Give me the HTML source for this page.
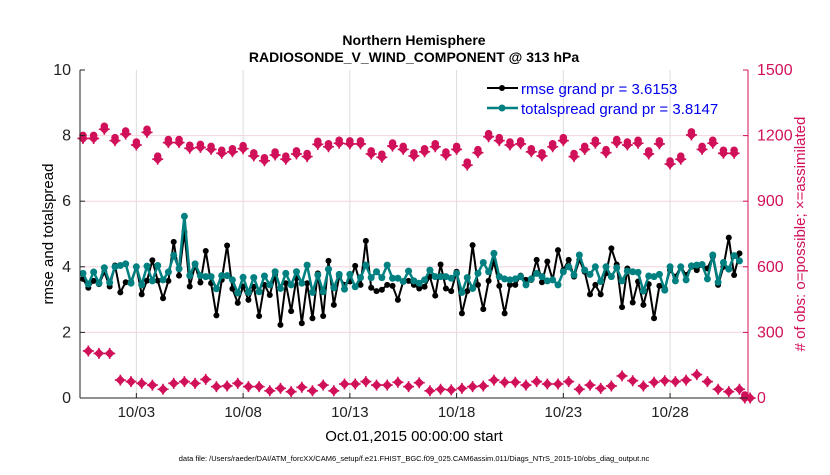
<!DOCTYPE html>
<html><head><meta charset="utf-8"><style>
body{margin:0;background:#fff;}
svg text{font-family:"Liberation Sans",sans-serif;}
</style></head><body>
<svg id="chart" width="830" height="470" viewBox="0 0 830 470" xmlns="http://www.w3.org/2000/svg">
<rect width="830" height="470" fill="#fff"/>
<g id="grid"></g>
<g id="marks"></g>
<g id="axes"></g>
<text x="414" y="45" font-size="14" font-weight="bold" text-anchor="middle">Northern Hemisphere</text>
<text x="414" y="62" font-size="14" font-weight="bold" text-anchor="middle">RADIOSONDE_V_WIND_COMPONENT @ 313 hPa</text>
<text transform="translate(53,234) rotate(-90)" font-size="15" text-anchor="middle">rmse and totalspread</text>
<text transform="translate(805,234) rotate(-90)" font-size="15" text-anchor="middle" fill="#d1105a"># of obs: o=possible; ×=assimilated</text>
<text x="414" y="441" font-size="15" text-anchor="middle">Oct.01,2015 00:00:00 start</text>
<text x="414" y="461" font-size="7.5" text-anchor="middle">data file: /Users/raeder/DAI/ATM_forcXX/CAM6_setup/f.e21.FHIST_BGC.f09_025.CAM6assim.011/Diags_NTrS_2015-10/obs_diag_output.nc</text>
<g>
<line x1="487" y1="88" x2="518" y2="88" stroke="#000" stroke-width="2"/><circle cx="502" cy="88" r="3" fill="#000"/>
<text x="521" y="94" font-size="15" fill="#0000ee">rmse grand pr = 3.6153</text>
<line x1="487" y1="108" x2="518" y2="108" stroke="#008080" stroke-width="2.5"/><circle cx="502" cy="108" r="3.5" fill="#008080"/>
<text x="521" y="114" font-size="15" fill="#0000ee">totalspread grand pr = 3.8147</text>
</g>
</svg>
<script>
const rmse=[3.63,3.36,3.57,3.47,3.84,3.4,4.04,3.22,3.53,3.55,4.0,3.16,3.58,4.2,3.58,3.04,3.57,4.76,3.73,5.06,3.4,4.04,3.52,4.48,3.5,2.52,3.6,4.65,3.33,2.9,3.4,
2.99,3.39,2.5,3.45,3.14,3.75,2.23,3.5,2.65,3.65,2.28,3.5,2.43,3.8,2.5,4.18,2.84,3.7,3.45,3.55,4.03,3.45,4.79,3.36,3.26,3.3,3.45,3.42,2.99,3.55,3.57,
3.45,3.34,3.39,3.7,3.12,4.07,3.34,3.26,3.85,2.58,3.26,4.66,3.45,2.71,3.57,4.16,3.42,2.58,3.45,3.45,3.73,3.6,3.6,4.21,3.53,4.16,3.6,4.51,3.9,4.21,3.7,
4.21,3.85,3.16,3.45,3.16,3.8,4.56,4.07,2.77,3.95,2.91,3.55,2.84,3.47,2.43,3.42,3.34,3.9,3.7,4.0,3.75,4.0,3.9,4.07,3.95,4.31,3.45,4.0,4.89,3.75,4.41];
const spread=[3.8,3.47,3.84,3.5,3.97,3.52,4.0,4.04,4.09,3.5,4.0,3.45,4.02,3.57,4.04,3.6,3.84,4.35,3.94,5.54,3.73,4.09,3.73,3.7,3.7,3.33,3.73,3.73,3.6,3.2,3.68,
3.22,3.67,3.24,3.72,3.45,3.85,3.34,3.8,3.45,3.85,3.5,4.05,3.22,3.75,3.24,3.93,3.36,3.77,3.32,3.77,3.39,3.67,4.05,3.67,3.85,3.67,4.05,3.65,3.65,3.55,3.87,
3.57,3.5,3.6,3.9,3.7,3.7,3.7,3.65,3.8,3.22,3.67,3.34,3.8,4.13,3.85,4.41,3.7,3.63,3.6,3.63,3.7,3.45,3.63,3.8,3.7,3.57,3.6,3.45,3.85,4.0,3.75,
4.36,3.9,3.77,4.0,3.55,4.0,3.7,3.97,3.57,3.87,3.85,3.83,3.26,3.72,3.7,3.77,3.29,4.0,3.57,4.0,3.6,4.03,4.05,4.07,3.63,4.36,3.53,4.13,3.93,4.34,4.18];
const obsPossible=[1187,1187,1229,1177,1207,1157,1215,1092,1168,1168,1142,1146,1137,1119,1126,1140,1107,1085,1111,1092,1116,1104,1160,1149,1165,1162,1162,1116,1101,1152,1137,
1107,1126,1149,1111,1137,1065,1122,1195,1177,1157,1162,1126,1107,1149,1177,1104,1137,1165,1122,1168,1157,1165,1116,1162,1070,1092,1203,1137,1165,1119,1119,0];
const obsLower=[215,204,204,82,75,67,59,40,67,75,67,85,52,55,67,52,52,33,44,29,49,33,59,33,64,64,75,59,59,72,52,
70,33,40,37,44,52,55,82,72,72,59,75,64,64,75,40,59,44,55,101,79,55,72,79,75,82,107,75,40,29,40,0];
const xTickLabels=["10/03","10/08","10/13","10/18","10/23","10/28"];
const xTickDays=[2,7,12,17,22,27];
const yLeftTicks=[0,2,4,6,8,10];
const yRightTicks=[0,300,600,900,1200,1500];

const L=80,R=748,T=70,B=398;
const t0=-0.64,t1=30.65;
function xs(t){return L+(t-t0)/(t1-t0)*(R-L);}
function yl(v){return B-v/10*(B-T);}
function yr(v){return B-v/1500*(B-T);}
const NS="http://www.w3.org/2000/svg";
function mk(tag,attrs,parent){const e=document.createElementNS(NS,tag);for(const k in attrs)e.setAttribute(k,attrs[k]);parent.appendChild(e);return e;}
const grid=document.getElementById('grid'),marks=document.getElementById('marks'),axes=document.getElementById('axes');
const red="#d1105a";
xTickDays.forEach((d,i)=>{
 const g=mk('line',{x1:xs(d),x2:xs(d),y1:T,y2:B,stroke:"#dcdcdc","stroke-width":1},grid);
 
 
 const tk=mk('line',{x1:xs(d),x2:xs(d),y1:B,y2:B-5,stroke:"#222"},axes);
 
 
 const tx=mk('text',{x:xs(d),y:B+19,"font-size":15,"text-anchor":"middle",fill:"#222"},axes);
 tx.textContent=xTickLabels[i];
 
 
});
yRightTicks.forEach(v=>{
 if(v>0&&v<1500){const g=mk('line',{x1:L,x2:R,y1:yr(v),y2:yr(v),stroke:"#f2d4de","stroke-width":1},grid);
 
 }
 const tk=mk('line',{x1:R-5,x2:R,y1:yr(v),y2:yr(v),stroke:red},axes);
 
 
 const tx=mk('text',{x:R+9,y:yr(v)+5,"font-size":16,fill:red},axes);
 tx.textContent=v;
 
 
});
yLeftTicks.forEach(v=>{
 const tk=mk('line',{x1:L,x2:L+5,y1:yl(v),y2:yl(v),stroke:"#222"},axes);
 
 
 const tx=mk('text',{x:L-9,y:yl(v)+5,"font-size":16,"text-anchor":"end",fill:"#222"},axes);
 tx.textContent=v;
 
 
});
const la=mk('line',{x1:L,x2:L,y1:T,y2:B,stroke:"#222"},axes);


const ba=mk('line',{x1:L,x2:R,y1:B,y2:B,stroke:"#222"},axes);


const ra=mk('line',{x1:R,x2:R,y1:T,y2:B,stroke:red},axes);



function obsMarker(cx,cy,name,open){
 const g=mk('g',{},marks);
 
 
 mk('path',{d:`M${cx-5} ${cy}L${cx} ${cy-5}L${cx+5} ${cy}L${cx} ${cy+5}Z`,fill:red},g);
 mk('path',{d:`M${cx-5.5} ${cy}H${cx+5.5}M${cx} ${cy-5.5}V${cy+5.5}`,stroke:red,"stroke-width":1.6},g);
 if(open)mk('circle',{cx:cx,cy:cy-3,r:3.8,fill:red},g);
}
obsPossible.forEach((v,j)=>{const t=-0.5+0.5*j;obsMarker(xs(t),yr(v),'obs-count-upper',true);});
obsLower.forEach((v,k)=>{const t=-0.25+0.5*k;obsMarker(xs(t),yr(v),'obs-count-lower',false);});

function series(vals,color,w,r,name){
 const pts=vals.map((v,i)=>[xs(-0.5+0.25*i),yl(v)]);
 const p=mk('polyline',{points:pts.map(p=>p.join(',')).join(' '),fill:"none",stroke:color,"stroke-width":w,"stroke-linejoin":"round"},marks);
 
 
 pts.forEach(q=>{const c=mk('circle',{cx:q[0],cy:q[1],r:r,fill:color},marks);
 
 });
}
series(rmse,"#000",2,3,'rmse');
series(spread,"#008080",2.5,3.5,'totalspread');
</script>
</body></html>
